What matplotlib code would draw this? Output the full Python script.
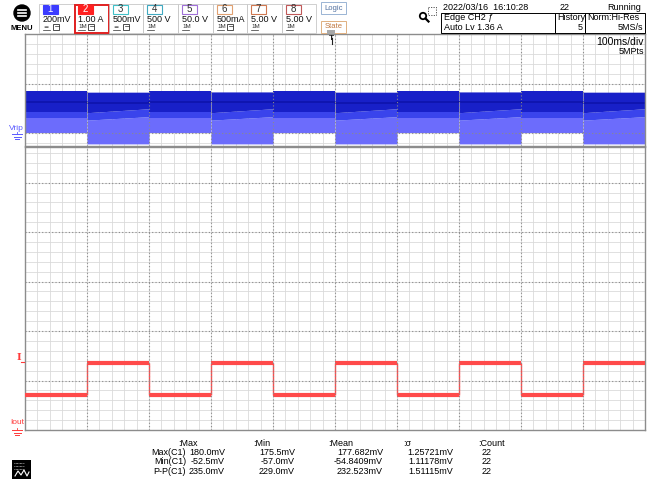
import matplotlib.pyplot as plt
from matplotlib import font_manager as fm
from matplotlib.patches import Rectangle, Circle
from matplotlib.ticker import MultipleLocator

W, H = 648, 487

_names = {f.name for f in fm.fontManager.ttflist}
FONT = 'Liberation Sans Narrow' if 'Liberation Sans Narrow' in _names else 'Liberation Sans'
plt.rcParams['font.family'] = [FONT, 'DejaVu Sans']

# ---- values ----
# time base: 10 div x 100 ms
t_edges = [0, 100, 200, 300, 400, 500, 600, 700, 800, 900, 1000]
# Iout (CH2, 1.00 A/div) for each 100 ms step
i_out = [0.71, 1.36, 0.71, 1.36, 0.71, 1.36, 0.71, 1.36, 0.71, 1.36]
# Vrip (CH1, 200 mV/div) envelope per step, mV; _a = step start, _b = step end
vr_top = [168, 165, 168, 166, 168, 165, 168, 166, 168, 165]
vr_stripe = [126, 122, 126, 124, 126, 122, 126, 124, 126, 122]
vr_dark_a = [86, 82, 86, 82, 86, 82, 86, 82, 86, 82]
vr_dark_b = [86, 98, 86, 98, 86, 98, 86, 98, 86, 98]
vr_mid_a = [60, 52, 60, 52, 60, 52, 60, 52, 60, 52]
vr_mid_b = [60, 66, 60, 66, 60, 66, 60, 66, 60, 66]
vr_bot = [0, -44, 0, -44, 0, -44, 0, -44, 0, -44]

ch_num = ['1', '2', '3', '4', '5', '6', '7', '8']
ch_scale = ['200mV', '1.00 A', '500mV', '500 V', '50.0 V', '500mA', '5.00 V', '5.00 V']
ch_color = ['#3c3cff', '#ff2020', '#40c0c8', '#40a8c0', '#a070d8', '#e0a070', '#d07850', '#c05858']

meas_rows = ['Max(C1)', 'Min(C1)', 'P-P(C1)']
meas_max = ['180.0mV', '-52.5mV', '235.0mV']
meas_min = ['175.5mV', '-57.0mV', '229.0mV']
meas_mean = ['177.682mV', '-54.8409mV', '232.523mV']
meas_sigma = ['1.25721mV', '1.11178mV', '1.51115mV']
meas_count = ['22', '22', '22']

DARK = '#1820c8'
MID = '#3a44ec'
LIGHT = '#6c6cfc'
RED = '#ff4a4a'
GRID_MIN = '#dadada'
GRID_MAJ = '#8a8a8a'
FS = 6.5


def fig_rect(x0, y0, x1, y1):
    return [x0 / W, 1 - y1 / H, (x1 - x0) / W, (y1 - y0) / H]


fig = plt.figure(figsize=(W / 100, H / 100), dpi=100)

ax_v = fig.add_axes(fig_rect(25, 34, 645, 146))
ax_i = fig.add_axes(fig_rect(25, 147, 645, 430))

ax_v.set_xlim(0, 1000)
ax_v.set_ylim(-52.5, 400)
ax_i.set_xlim(0, 1000)
ax_i.set_ylim(0, 5.72)

for ax, ymaj, ymin in [(ax_v, 200, 40), (ax_i, 1, 0.2)]:
    ax.xaxis.set_major_locator(MultipleLocator(100))
    ax.xaxis.set_minor_locator(MultipleLocator(20))
    ax.yaxis.set_major_locator(MultipleLocator(ymaj))
    ax.yaxis.set_minor_locator(MultipleLocator(ymin))
    ax.grid(which='minor', color=GRID_MIN, lw=0.6)
    ax.grid(which='major', color=GRID_MIN, lw=0.6)
    ax.set_axisbelow(True)
    ax.tick_params(which='both', length=0, labelbottom=False, labelleft=False)
    for s in ax.spines.values():
        s.set_color('#8c8c8c')
        s.set_linewidth(1)
    # dotted division lines drawn over the traces
    for x in range(100, 1000, 100):
        ax.axvline(x, color=GRID_MAJ, lw=0.8, ls=(0, (1, 2)), zorder=4)
    for y in ax.get_yticks():
        if ax.get_ylim()[0] < y < ax.get_ylim()[1]:
            ax.axhline(y, color=GRID_MAJ, lw=0.8, ls=(0, (1, 2)), zorder=4)

# Vrip band
for k in range(len(vr_top)):
    t = [t_edges[k], t_edges[k + 1]]
    ax_v.fill_between(t, [vr_mid_a[k], vr_mid_b[k]], [vr_bot[k], vr_bot[k]],
                      color=LIGHT, lw=0, zorder=1)
    ax_v.fill_between(t, [vr_dark_a[k], vr_dark_b[k]], [vr_mid_a[k], vr_mid_b[k]],
                      color=MID, lw=0, zorder=1)
    ax_v.fill_between(t, [vr_top[k], vr_top[k]], [vr_dark_a[k], vr_dark_b[k]],
                      color=DARK, lw=0, zorder=1)
    ax_v.plot(t, [vr_stripe[k], vr_stripe[k]], color='#0a0ea0', lw=1.2, alpha=0.7, zorder=2)

# Iout square wave
ax_i.hlines(i_out, t_edges[:-1], t_edges[1:], color=RED, lw=3, zorder=3)
ax_i.vlines(t_edges[1:-1], i_out[:-1], i_out[1:], color=RED, lw=1, zorder=3)

# ---- screen furniture (pixel coordinates) ----
ov = fig.add_axes([0, 0, 1, 1])
ov.set_xlim(0, W)
ov.set_ylim(H, 0)
ov.axis('off')

# menu button
ov.add_patch(Circle((22, 13), 8, color='black'))
for y in (10, 13, 16):
    ov.plot([18, 26], [y, y], color='white', lw=1.2)
ov.text(22, 28, 'MENU', fontsize=5.5, weight='bold', ha='center', va='center')

# channel boxes
box_x = [39, 74, 109, 143, 178, 213, 247, 282, 316]
for k in range(8):
    x0, x1 = box_x[k], box_x[k + 1]
    if k == 1:
        ov.add_patch(Rectangle((x0 + 0.5, 5), x1 - x0 - 1, 28, fill=False, ec='#e02020', lw=1.4))
    else:
        ov.add_patch(Rectangle((x0, 4), x1 - x0, 29, fill=False, ec='#c8c8c8', lw=0.6))
    filled = k < 2
    ov.add_patch(Rectangle((x0 + 4, 4.5), 15, 9.5, fc=ch_color[k] if filled else 'white',
                           ec=ch_color[k], lw=0.8))
    ov.text(x0 + 11.5, 9.5, ch_num[k], fontsize=7, ha='center', va='center',
            color='white' if filled else '#303030')
    ov.text(x0 + 4, 19.5, ch_scale[k], fontsize=FS, ha='left', va='center', color='#101010')
    sym = '\u2243' if k in (0, 2) else '1M'
    ov.text(x0 + 4, 27, sym, fontsize=4.5, ha='left', va='center', color='#303030')
    ov.plot([x0 + 4, x0 + 11], [29.5, 29.5], color='#303030', lw=0.5)
    if k in (0, 1, 2, 5):
        ov.add_patch(Rectangle((x0 + 14, 24), 6, 6, fill=False, ec='#303030', lw=0.6))
        ov.plot([x0 + 16, x0 + 20], [26, 26], color='#303030', lw=0.5)

# logic / state
ov.add_patch(Rectangle((321, 2), 25, 12, fill=False, ec='#9ab4d4', lw=0.7))
ov.text(333.5, 8, 'Logic', fontsize=5.5, ha='center', va='center', color='#5070a0')
ov.add_patch(Rectangle((321, 21), 25, 12, fill=False, ec='#e0b080', lw=0.7))
ov.text(333.5, 27, 'State', fontsize=5.5, ha='center', va='center', color='#c07840')

# zoom icon
ov.add_patch(Circle((423, 16), 3.2, fill=False, ec='black', lw=1.3))
ov.plot([425.5, 428.5], [18.5, 21.5], color='black', lw=1.6)
ov.add_patch(Rectangle((428, 7), 8, 8, fill=False, ec='#404040', lw=0.6, ls=(0, (1.5, 1.5))))

# status area
ov.text(443, 7.5, '2022/03/16  16:10:28', fontsize=FS, ha='left', va='center')
ov.text(570, 7.5, '22', fontsize=FS, ha='right', va='center')
ov.text(641, 7.5, 'Running', fontsize=FS, ha='right', va='center')
ov.add_patch(Rectangle((441, 13), 114, 20, fill=False, ec='black', lw=0.7))
ov.add_patch(Rectangle((555, 13), 30, 20, fill=False, ec='black', lw=0.7))
ov.add_patch(Rectangle((585, 13), 60, 20, fill=False, ec='black', lw=0.7))
ov.text(444, 18, 'Edge CH2 \u0192', fontsize=FS, ha='left', va='center')
ov.text(444, 28, 'Auto Lv 1.36 A', fontsize=FS, ha='left', va='center')
ov.text(557, 18, 'History', fontsize=FS, ha='left', va='center')
ov.text(583, 28, '5', fontsize=FS, ha='right', va='center')
ov.text(587, 18, 'Norm:Hi-Res', fontsize=FS, ha='left', va='center')
ov.text(643, 28, '5MS/s', fontsize=FS, ha='right', va='center')

ov.text(644, 42, '100ms/div', fontsize=7.5, ha='right', va='center')
ov.text(644, 52, '5MPts', fontsize=6.5, ha='right', va='center')

# trigger position mark
ov.add_patch(Rectangle((327, 30), 8, 4, fc='#a8a8a8', ec='none'))
ov.text(331, 38.5, 'T', fontsize=6, weight='bold', ha='center', va='center', color='#202020')
ov.plot([332, 332], [38, 44], color='#202020', lw=0.8)

# channel markers on the left
ov.text(16, 128, 'Vrip', fontsize=6, ha='center', va='center', color='#5a5aff')
ov.text(17, 423, 'Iout', fontsize=6, ha='center', va='center', color='#ff3a3a')
for yg, col in [(133, '#5a5aff'), (429, '#ff3a3a')]:
    ov.plot([17, 17], [yg - 1, yg + 1], color=col, lw=0.6)
    ov.plot([12, 22], [yg + 1, yg + 1], color=col, lw=0.7)
    ov.plot([13.5, 20.5], [yg + 3.5, yg + 3.5], color=col, lw=0.7)
    ov.plot([15, 19], [yg + 6, yg + 6], color=col, lw=0.7)
ov.text(19, 358, 'I', fontsize=7, family='DejaVu Serif', weight='bold', ha='center',
        va='center', color='#ff3a3a')
ov.plot([21, 24], [362, 362], color='#ff3a3a', lw=0.8)

# measurement table
ov.text(178, 443, ':Max', fontsize=FS, ha='left', va='center')
ov.text(253, 443, ':Min', fontsize=FS, ha='left', va='center')
ov.text(328, 443, ':Mean', fontsize=FS, ha='left', va='center')
ov.text(403, 443, ':\u03c3', fontsize=FS, ha='left', va='center')
ov.text(478, 443, ':Count', fontsize=FS, ha='left', va='center')
for r in range(3):
    y = 452.5 + r * 9.5
    ov.text(186, y, meas_rows[r], fontsize=FS, ha='right', va='center')
    ov.text(225, y, meas_max[r], fontsize=FS, ha='right', va='center')
    ov.text(295, y, meas_min[r], fontsize=FS, ha='right', va='center')
    ov.text(383, y, meas_mean[r], fontsize=FS, ha='right', va='center')
    ov.text(453, y, meas_sigma[r], fontsize=FS, ha='right', va='center')
    ov.text(492, y, meas_count[r], fontsize=FS, ha='right', va='center')

# logo bottom left
ov.add_patch(Rectangle((12, 460), 19, 19, fc='black', ec='none'))
for y in (463, 466, 469):
    ov.plot([14, 24], [y, y], color='white', lw=0.5, ls=(0, (1, 1)))
ov.plot([15, 18, 21, 24, 27, 29], [476, 471, 475, 470, 476, 472], color='white', lw=0.8)

fig.savefig('out.png', dpi=100)
